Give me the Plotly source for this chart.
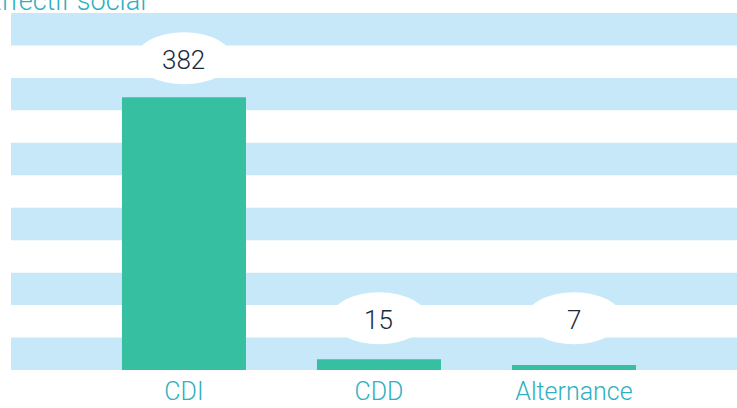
import plotly.graph_objects as go

# Data
categories = ["CDI", "CDD", "Alternance"]
values = [382, 15, 7]
title_text = "Effectif social"

# Styles
BAR_COLOR = "#36BFA1"
STRIPE_COLOR = "#C7E8F8"
LABEL_COLOR = "#2FAFC1"
VALUE_COLOR = "#1C2B3A"
FONT = "Helvetica Neue, Roboto, Liberation Sans, sans-serif"

Y_MAX = 500
N_BANDS = 11
LABEL_FLOOR = 18  # minimum anchor (data units) for value bubbles

fig = go.Figure()
fig.add_trace(go.Bar(
    x=list(range(len(categories))),
    y=values,
    width=0.636,
    marker=dict(color=BAR_COLOR, line=dict(width=0)),
    hoverinfo="x+y",
))

shapes = []
for k in range(0, N_BANDS, 2):
    shapes.append(dict(type="rect", xref="paper", yref="paper",
                       x0=0, x1=1, y0=k / N_BANDS, y1=(k + 1) / N_BANDS,
                       fillcolor=STRIPE_COLOR, line=dict(width=0), layer="below"))

annotations = []
for i, v in enumerate(values):
    anchor = max(v, LABEL_FLOOR)
    shapes.append(dict(type="circle", xref="x", yref="y",
                       xsizemode="pixel", ysizemode="pixel",
                       xanchor=i, yanchor=anchor,
                       x0=-48, x1=48, y0=13, y1=65,
                       fillcolor="white", line=dict(width=0), layer="above"))
    annotations.append(dict(x=i, y=anchor, xref="x", yref="y", text=str(v),
                            showarrow=False, yshift=37, yanchor="middle",
                            font=dict(family=FONT, size=26, color=VALUE_COLOR, weight=300)))

annotations.append(dict(x=-27 / 726, y=1, xref="paper", yref="paper", text=title_text,
                        showarrow=False, xanchor="left", yanchor="bottom", yshift=-6,
                        font=dict(family=FONT, size=27, color=LABEL_COLOR, weight=300)))

fig.update_layout(
    width=737, height=408,
    margin=dict(l=11, r=0, t=13, b=38, autoexpand=False),
    paper_bgcolor="white", plot_bgcolor="white",
    showlegend=False,
    shapes=shapes,
    annotations=annotations,
    xaxis=dict(tickmode="array", tickvals=list(range(len(categories))), ticktext=categories,
               range=[-0.887, 2.836], showgrid=False, zeroline=False, showline=False,
               ticks="", ticklabelstandoff=4, automargin=False,
               tickfont=dict(family=FONT, size=25, color=LABEL_COLOR, weight=300)),
    yaxis=dict(range=[0, Y_MAX], visible=False, showgrid=False, zeroline=False,
               automargin=False),
)

fig.write_html("out.html", config={"displayModeBar": False},
               post_script="document.body.style.margin='0';")
